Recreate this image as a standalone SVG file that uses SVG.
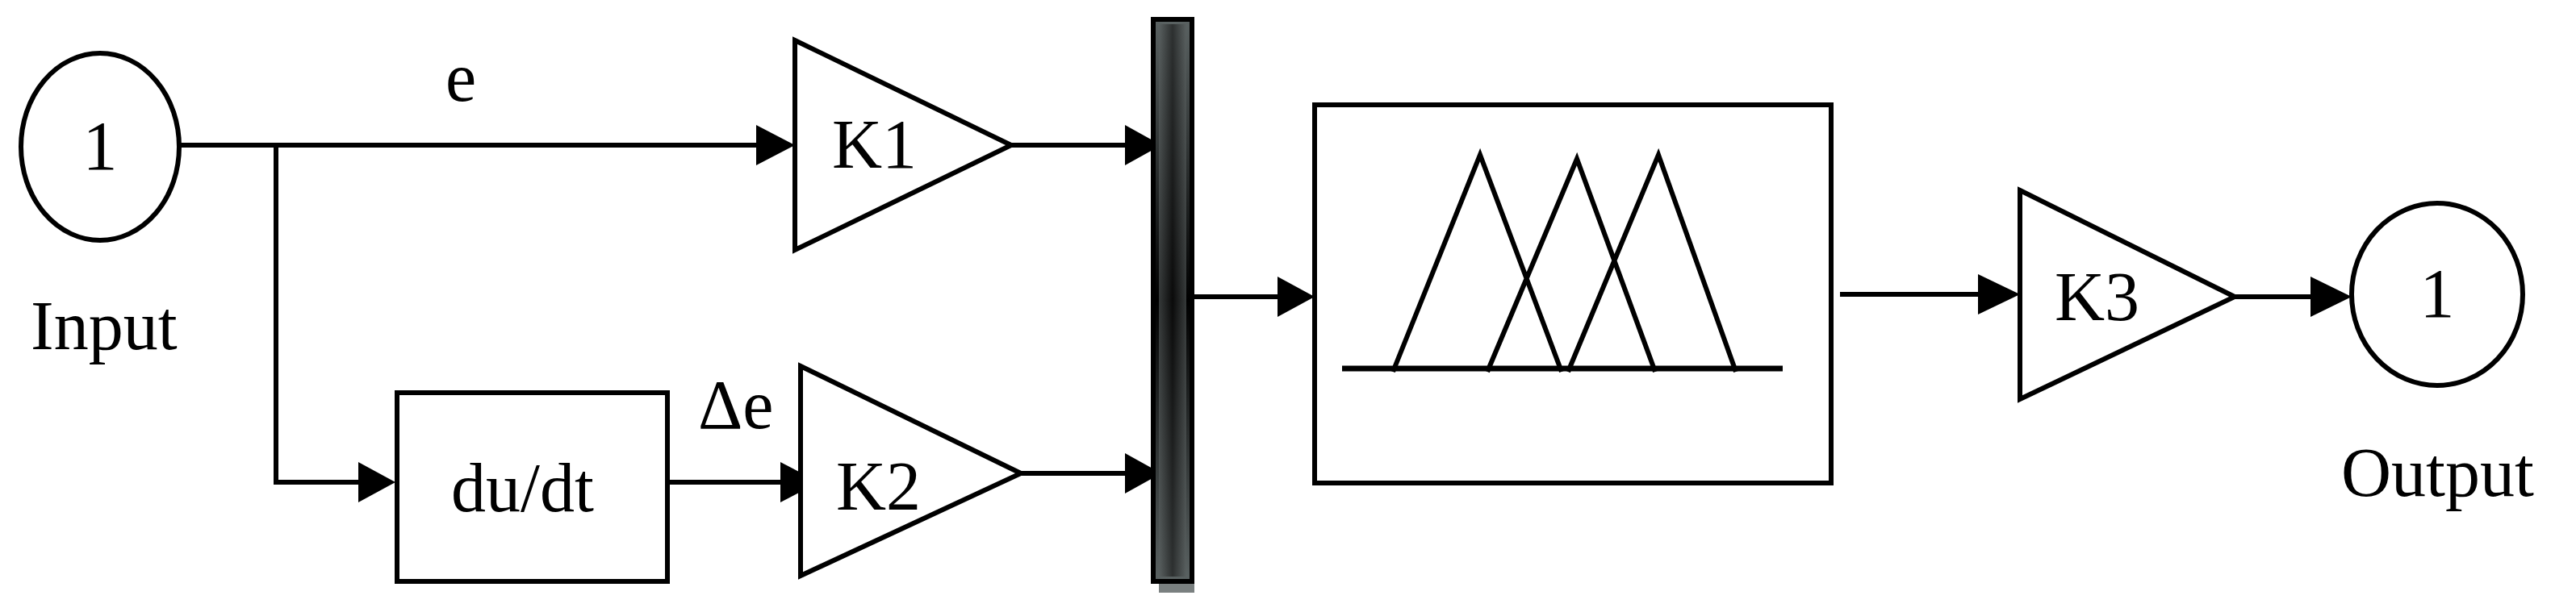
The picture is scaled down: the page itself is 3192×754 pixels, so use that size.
<svg xmlns="http://www.w3.org/2000/svg" width="3192" height="754" viewBox="0 0 3192 754">
<style>
.b{fill:#fff;stroke:#000;stroke-width:6}
.l{fill:none;stroke:#000;stroke-width:6}
.t{font-family:"Liberation Serif",serif;font-size:86px;fill:#000}
</style>
<defs>
<linearGradient id="g" x1="0" x2="1" y1="0" y2="0"><stop offset="0" stop-color="#5a6060"/><stop offset="0.5" stop-color="#111"/><stop offset="1" stop-color="#5a6060"/></linearGradient>
<linearGradient id="gv" x1="0" x2="0" y1="0" y2="1"><stop offset="0" stop-color="#5a6262"/><stop offset="0.5" stop-color="#000"/><stop offset="1" stop-color="#5a6262"/></linearGradient>
</defs>
<rect width="3192" height="754" fill="#fff"/>
<g id="connectors" class="l">
<path d="M222,180 H940"/>
<path d="M342,180 V598 H450"/>
<path d="M827,598 H970"/>
<path d="M1253,180 H1400"/>
<path d="M1265,587 H1400"/>
<path d="M1480,368 H1590"/>
<path d="M2280,365 H2455"/>
<path d="M2769,368 H2866"/>
<g fill="#000" stroke="none">
<path d="M937,155 L985,180 L937,205 z"/>
<path d="M444,573 L490,598 L444,623 z"/>
<path d="M967,573 L1015,598 L967,623 z"/>
<path d="M1394,155 L1439,180 L1394,205 z"/>
<path d="M1394,562 L1439,587 L1394,612 z"/>
<path d="M1583,343 L1629,368 L1583,393 z"/>
<path d="M2451,340 L2503,365 L2451,390 z"/>
<path d="M2863,343 L2914,368 L2863,393 z"/>
</g>
</g>
<g id="input">
<ellipse class="b" cx="124" cy="182" rx="98" ry="116"/>
<text class="t" x="124" y="210" text-anchor="middle">1</text>
<text class="t" x="38" y="433">Input</text>
</g>
<text id="lbl-e" class="t" x="552" y="125">e</text>
<text id="lbl-de" class="t" x="865" y="531">Δe</text>
<g id="k1">
<path class="b" d="M985,50 L1253,180 L985,310 z"/>
<text class="t" x="1031" y="208">K1</text>
</g>
<g id="deriv">
<rect class="b" x="492" y="487" width="335" height="234"/>
<text class="t" x="559" y="634">du/dt</text>
</g>
<g id="k2">
<path class="b" d="M992,454 L1265,587 L992,714 z"/>
<text class="t" x="1036" y="632">K2</text>
</g>
<g id="mux">
<rect x="1436" y="40" width="44" height="695" fill="#7a8080"/>
<rect x="1429" y="24" width="48" height="697" fill="url(#gv)" stroke="#000" stroke-width="6"/>
<rect x="1436" y="30" width="34" height="685" fill="url(#g)" opacity="0.6"/>
</g>
<g id="fuzzy">
<rect class="b" x="1629" y="130" width="640" height="469"/>
<path d="M1663,457 H2209" stroke="#000" stroke-width="7"/>
<path class="l" d="M1726,461 L1834,192 L1935,461 M1843,461 L1954,197 L2051,461 M1943,461 L2055,192 L2151,461" stroke-width="5"/>
</g>
<g id="k3">
<path class="b" d="M2503,236 L2769,368 L2503,495 z"/>
<text class="t" x="2546" y="397">K3</text>
</g>
<g id="output">
<ellipse class="b" cx="3020" cy="365" rx="106" ry="113"/>
<text class="t" x="3020" y="393" text-anchor="middle">1</text>
<text class="t" x="2901" y="615">Output</text>
</g>
</svg>
